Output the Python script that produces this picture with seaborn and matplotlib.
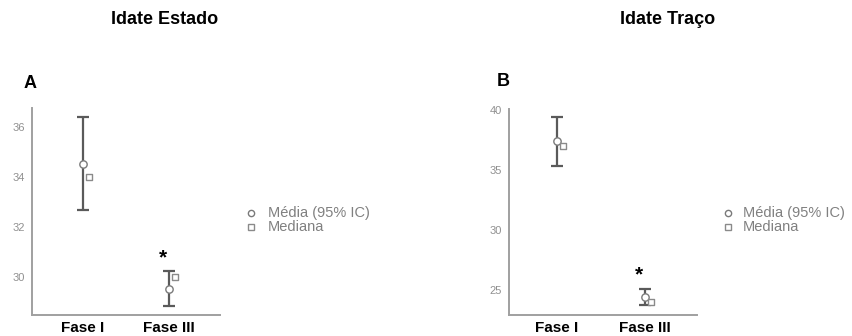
import matplotlib
matplotlib.use("Agg")
import matplotlib.pyplot as plt
import seaborn as sns
import pandas as pd

# Summary values
fases = ["Fase I", "Fase III"]

estado_media = [34.5, 29.5]
estado_ic_low = [32.67, 28.84]
estado_ic_high = [36.38, 30.23]
estado_mediana = [34.0, 30.0]

traco_media = [37.4, 24.4]
traco_ic_low = [35.35, 23.75]
traco_ic_high = [39.4, 25.05]
traco_mediana = [37.0, 24.0]

sns.set_style("white")
plt.rcParams['font.family'] = ['Liberation Sans', 'DejaVu Sans']

W, H = 852, 336
fig = plt.figure(figsize=(W / 100, H / 100), dpi=100)


def px_axes(left, top, right, bottom):
    return fig.add_axes([left / W, 1 - bottom / H, (right - left) / W, (bottom - top) / H])


def draw_panel(ax, media, low, high, mediana, ylim, yticks, xlim, star_y, med_off):
    df = pd.DataFrame({"pos": [0, 1], "media": media, "low": low, "high": high,
                       "mediana": mediana})
    # Confidence interval whiskers
    ax.errorbar(df["pos"], df["media"],
                yerr=[df["media"] - df["low"], df["high"] - df["media"]],
                fmt="none", ecolor="#5a5a5a", elinewidth=1.6, capsize=4, capthick=1.6,
                zorder=2)
    # Mean markers
    sns.scatterplot(x=df["pos"], y=df["media"], ax=ax, marker="o", s=28,
                    facecolor="white", edgecolor="#7a7a7a", linewidth=1.0, zorder=3)
    # Median markers, slightly offset to the right
    sns.scatterplot(x=df["pos"] + med_off, y=df["mediana"], ax=ax, marker="s", s=22,
                    facecolor="white", edgecolor="#8a8a8a", linewidth=1.0, zorder=3)
    ax.text(1 - 0.07, star_y, "*", ha="center", va="center", fontsize=15,
            fontweight="bold", color="black")

    ax.set_xlim(*xlim)
    ax.set_ylim(*ylim)
    ax.set_xticks([0, 1])
    ax.set_xticklabels(fases, fontsize=11, fontweight="bold", color="black")
    ax.set_yticks(yticks)
    ax.set_yticklabels([str(t) for t in yticks], fontsize=8, color="#909090")
    ax.set_xlabel("")
    ax.set_ylabel("")
    sns.despine(ax=ax)
    for s in ["left", "bottom"]:
        ax.spines[s].set_color("#a0a0a0")
        ax.spines[s].set_linewidth(1.4)
    ax.tick_params(axis="both", length=3, width=1, color="#707070", pad=2)
    ax.tick_params(axis="x", pad=1)


axA = px_axes(32, 108, 220, 315)
draw_panel(axA, estado_media, estado_ic_low, estado_ic_high, estado_mediana,
           (28.47, 36.75), [30, 32, 34, 36], (-0.593, 1.593), 30.75, 0.07)

axB = px_axes(509, 109, 697, 315)
draw_panel(axB, traco_media, traco_ic_low, traco_ic_high, traco_mediana,
           (22.92, 40.1), [25, 30, 35, 40], (-0.545, 1.59), 26.25, 0.07)

# Titles and panel letters
fig.text(165 / W, 1 - 20 / H, "Idate Estado", ha="center", va="center",
         fontsize=13, fontweight="bold", color="black")
fig.text(668 / W, 1 - 20 / H, "Idate Traço", ha="center", va="center",
         fontsize=13, fontweight="bold", color="black")
fig.text(30 / W, 1 - 84 / H, "A", ha="center", va="center", fontsize=13,
         fontweight="bold", color="black")
fig.text(503 / W, 1 - 81 / H, "B", ha="center", va="center", fontsize=13,
         fontweight="bold", color="black")

# Legends drawn as marker + text
for lx, tx in [(251, 268), (728, 743)]:
    fig.lines.append(plt.Line2D([lx / W], [1 - 213 / H], marker="o", markersize=4.5,
                                markerfacecolor="white", markeredgecolor="#7a7a7a",
                                linestyle="none", transform=fig.transFigure))
    fig.lines.append(plt.Line2D([lx / W], [1 - 227 / H], marker="s", markersize=4,
                                markerfacecolor="white", markeredgecolor="#8a8a8a",
                                linestyle="none", transform=fig.transFigure))
    fig.text(tx / W, 1 - 213 / H, "Média (95% IC)", ha="left", va="center",
             fontsize=10.5, color="#808080")
    fig.text(tx / W, 1 - 227 / H, "Mediana", ha="left", va="center",
             fontsize=10.5, color="#808080")

fig.savefig("out.png", dpi=100)
